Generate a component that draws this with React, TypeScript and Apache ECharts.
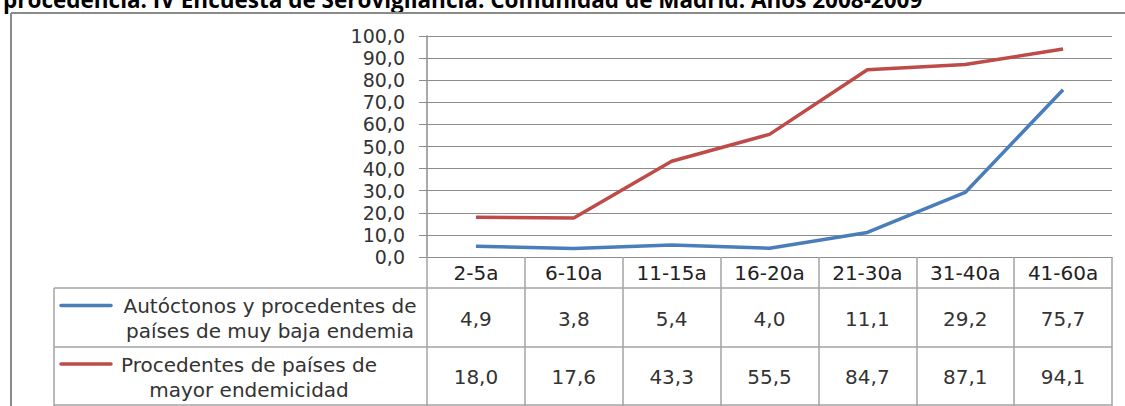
import React, { useEffect, useRef } from "react";
import * as echarts from "echarts";

const titleText =
  "procedencia. IV Encuesta de Serovigilancia. Comunidad de Madrid. Años 2008-2009";
const categories = ["2-5a", "6-10a", "11-15a", "16-20a", "21-30a", "31-40a", "41-60a"];
const autoctonos = [4.9, 3.8, 5.4, 4.0, 11.1, 29.2, 75.7];
const endemicos = [18.0, 17.6, 43.3, 55.5, 84.7, 87.1, 94.1];
const seriesNames = [
  "Autóctonos y procedentes de\npaíses de muy baja endemia",
  "Procedentes de países de\nmayor endemicidad",
];
const seriesColors = ["#4a7ebb", "#be4b48"];
const yMin = 0;
const yMax = 100;
const yStep = 10;

const fmt = (v: number) => v.toFixed(1).replace(".", ",");

// layout
const W = 1125;
const H = 406;
const GL = 427;
const GR = 1112;
const GT = 36;
const GB = 257;
const ROW1 = 288;
const ROW2 = 347;
const ROW3 = 405;
const LEG_L = 54;
const FONT = "'DejaVu Sans', Verdana, sans-serif";
const GRID_C = "#8c8c8c";
const TABLE_C = "#a3a3a3";

export default function App() {
  const ref = useRef<HTMLDivElement>(null);
  useEffect(() => {
    document.body.style.margin = "0";
    if (!ref.current) return;
    const chart = echarts.init(ref.current, null, { renderer: "svg" });
    const colW = (GR - GL) / categories.length;
    const rows = [autoctonos, endemicos];
    const rowCenters = [(ROW1 + ROW2) / 2 + 1, (ROW2 + ROW3) / 2 + 1];
    const valueTexts: any[] = [];
    rows.forEach((arr, r) => {
      arr.forEach((v, i) => {
        valueTexts.push({
          type: "text",
          x: GL + (i + 0.5) * colW,
          y: rowCenters[r],
          style: {
            text: fmt(v),
            fill: "#333",
            font: `20px ${FONT}`,
            align: "center",
            verticalAlign: "middle",
          },
        });
      });
    });
    const legendCenters = [270, 249];
    const legendItems: any[] = [];
    seriesNames.forEach((name, r) => {
      const cy = rowCenters[r];
      legendItems.push({
        type: "line",
        shape: { x1: 61, y1: cy - 13, x2: 111, y2: cy - 13 },
        style: { stroke: seriesColors[r], lineWidth: 3.5, lineCap: "round" },
      });
      legendItems.push({
        type: "text",
        x: legendCenters[r],
        y: cy,
        style: {
          text: name,
          fill: "#333",
          font: `20px ${FONT}`,
          align: "center",
          verticalAlign: "middle",
          lineHeight: 25,
        },
      });
    });
    const tableLines = [ROW1, ROW2, ROW3].map((y) => ({
      type: "line",
      shape: { x1: LEG_L, y1: y, x2: GR, y2: y },
      style: { stroke: TABLE_C, lineWidth: 1.5 },
    }));
    chart.setOption({
      animation: false,
      backgroundColor: "#ffffff",
      grid: { left: GL, top: GT, width: GR - GL, height: GB - GT, containLabel: false },
      xAxis: {
        type: "category",
        data: categories,
        boundaryGap: true,
        axisLine: { show: true, lineStyle: { color: GRID_C, width: 1 } },
        axisTick: {
          show: true,
          interval: 0,
          length: H - GB,
          lineStyle: { color: TABLE_C, width: 1.5 },
        },
        axisLabel: {
          interval: 0,
          margin: 6,
          color: "#222",
          fontFamily: FONT,
          fontSize: 20,
        },
      },
      yAxis: {
        type: "value",
        min: yMin,
        max: yMax,
        interval: yStep,
        axisLine: { show: true, lineStyle: { color: GRID_C, width: 1.5 } },
        axisTick: { show: true, length: 8, lineStyle: { color: GRID_C } },
        axisLabel: {
          formatter: (v: number) => fmt(v),
          margin: 22,
          color: "#333",
          fontFamily: FONT,
          fontSize: 19,
        },
        splitLine: { show: true, lineStyle: { color: GRID_C, width: 1 } },
      },
      series: [
        {
          name: seriesNames[0],
          type: "line",
          data: autoctonos,
          showSymbol: false,
          lineStyle: { color: seriesColors[0], width: 3.5 },
          itemStyle: { color: seriesColors[0] },
        },
        {
          name: seriesNames[1],
          type: "line",
          data: endemicos,
          showSymbol: false,
          lineStyle: { color: seriesColors[1], width: 3.5 },
          itemStyle: { color: seriesColors[1] },
        },
      ],
      graphic: [
        {
          type: "text",
          x: 3,
          y: -1,
          style: {
            text: titleText,
            fill: "#000",
            font: `bold 22.5px 'Open Sans', sans-serif`,
            align: "left",
            verticalAlign: "middle",
          },
        },
        {
          type: "line",
          shape: { x1: 11, y1: 13, x2: W, y2: 13 },
          style: { stroke: "#8a8a8a", lineWidth: 2 },
        },
        {
          type: "line",
          shape: { x1: 11, y1: 13, x2: 11, y2: H },
          style: { stroke: "#8a8a8a", lineWidth: 2 },
        },
        {
          type: "line",
          shape: { x1: LEG_L, y1: ROW1, x2: LEG_L, y2: H },
          style: { stroke: TABLE_C, lineWidth: 1.5 },
        },
        ...tableLines,
        ...legendItems,
        ...valueTexts,
      ],
    });
    return () => chart.dispose();
  }, []);
  return <div ref={ref} style={{ width: W, height: H }} />;
}
